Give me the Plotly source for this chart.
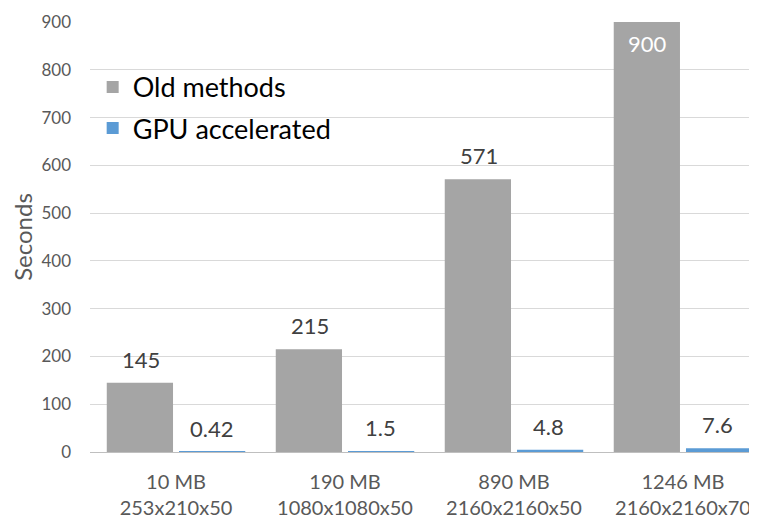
import plotly.graph_objects as go

categories = ["10 MB<br>253x210x50", "190 MB<br>1080x1080x50", "890 MB<br>2160x2160x50", "1246 MB<br>2160x2160x70"]
old_methods = [145, 215, 571, 900]
gpu_accelerated = [0.42, 1.5, 4.8, 7.6]
old_labels = ["145", "215", "571", "900"]
gpu_labels = ["0.42", "1.5", "4.8", "7.6"]
y_ticks = [0, 100, 200, 300, 400, 500, 600, 700, 800, 900]

FONT = "Lato"
GRAY = "#A5A5A5"
BLUE = "#5B9BD5"
LABEL_COLOR = "#404040"

fig = go.Figure()
fig.add_trace(go.Bar(
    x=categories, y=old_methods, name="Old methods",
    marker=dict(color=GRAY, line=dict(width=0)),
    legendgroup="a", cliponaxis=False,
))
fig.add_trace(go.Bar(
    x=categories, y=gpu_accelerated, name="GPU accelerated",
    marker=dict(color=BLUE, line=dict(width=0)),
    legendgroup="b", cliponaxis=False,
))

# data labels
for cat, v, lab in zip(categories, old_methods, old_labels):
    inside = v >= 900
    fig.add_annotation(
        x=cat, y=v, text=lab, showarrow=False, xshift=-35,
        yanchor="top" if inside else "bottom", yshift=-6 if inside else 8,
        font=dict(family=FONT, size=22, color="white" if inside else LABEL_COLOR),
    )
for cat, v, lab in zip(categories, gpu_accelerated, gpu_labels):
    fig.add_annotation(
        x=cat, y=v, text=lab, showarrow=False, xshift=35,
        yanchor="bottom", yshift=8,
        font=dict(family=FONT, size=22, color=LABEL_COLOR),
    )

# page body has an 8px margin, so the figure is sized to fill the rest of the window
fig.update_layout(
    width=749, height=511,
    margin=dict(l=82, r=0, t=14, b=67),
    paper_bgcolor="white", plot_bgcolor="white",
    barmode="group", bargap=0.145, bargroupgap=0.083,
    font=dict(family=FONT, color="#595959"),
    showlegend=True,
    legend=dict(x=0.004, y=0.905, xanchor="left", yanchor="top",
                font=dict(family=FONT, size=27, color="black"),
                bgcolor="rgba(0,0,0,0)", tracegroupgap=3,
                traceorder="grouped"),
)
fig.update_xaxes(
    range=[-0.509, 3.438], showgrid=False, showline=False, ticks="",
    automargin=False, ticklabelstandoff=16,
    tickfont=dict(family=FONT, size=20, color="#595959"),
)
fig.update_yaxes(
    range=[0, 900], tickvals=y_ticks, showgrid=True, gridcolor="#D9D9D9",
    gridwidth=1, zeroline=True, zerolinecolor="#BFBFBF", zerolinewidth=1,
    showline=False, ticks="", ticklabelstandoff=18, automargin=False,
    tickfont=dict(family=FONT, size=17, color="#595959"),
    title=dict(text="Seconds", font=dict(family=FONT, size=24, color="#595959"), standoff=16),
)

fig.write_html("out.html")
